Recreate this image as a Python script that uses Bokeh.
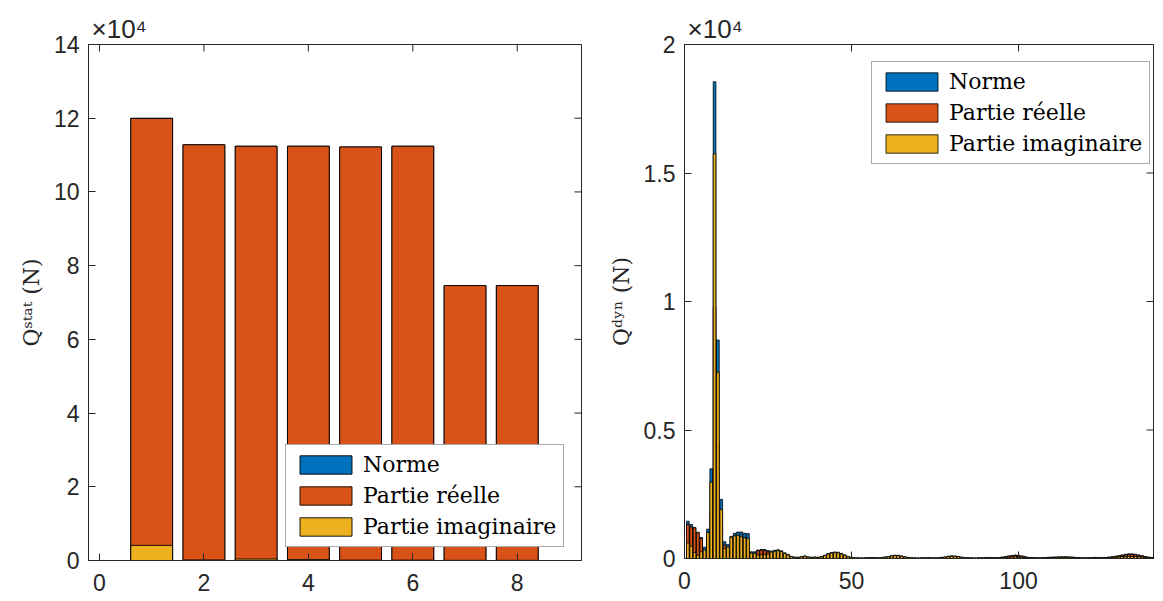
import math
from bokeh.plotting import figure
from bokeh.layouts import row
from bokeh.models import FixedTicker, ColumnDataSource, Range1d, Legend, LegendItem
from bokeh.embed import file_html
from bokeh.resources import INLINE

# ---------------- data ----------------
# Left chart: static loads (N)
stat_idx = [1, 2, 3, 4, 5, 6, 7, 8]
stat_norme = [120000, 112800, 112400, 112400, 112200, 112400, 74600, 74600]
stat_reel = [119930, 112800, 112390, 112400, 112200, 112400, 74600, 74600]
stat_imag = [4100, 150, 400, 250, 100, 100, 50, 50]

# Right chart: dynamic loads (N), harmonic index 1..143
dyn_idx = list(range(1, 144))
dyn_norme = [
    1450, 1320, 1210, 1020, 820, 440, 1140, 3490, 18550, 8500,
    2300, 650, 540, 860, 980, 1030, 1030, 980, 970, 260,
    260, 330, 350, 350, 310, 290, 320, 340, 300, 220,
    160, 85, 55, 50, 75, 100, 65, 50, 60, 50,
    75, 130, 190, 235, 255, 245, 200, 140, 80, 45,
    30, 25, 20, 25, 35, 40, 35, 30, 40, 60,
    80, 110, 130, 125, 100, 70, 40, 30, 25, 20,
    25, 30, 35, 30, 25, 30, 45, 65, 90, 105,
    100, 80, 55, 35, 30, 25, 20, 25, 30, 35,
    40, 35, 30, 40, 55, 75, 100, 120, 135, 125,
    100, 70, 45, 35, 30, 25, 30, 40, 50, 55,
    60, 65, 70, 70, 65, 60, 45, 35, 30, 25,
    30, 40, 45, 40, 35, 40, 55, 70, 90, 110,
    140, 165, 180, 180, 165, 140, 110, 80, 55, 40,
    35, 40, 45,
]
dyn_reel = [
    1320, 1230, 1190, 1010, 780, 280, 530, 1850, 9800, 4450,
    1280, 520, 300, 240, 450, 500, 590, 570, 580, 150,
    170, 300, 320, 320, 260, 150, 150, 160, 130, 100,
    70, 40, 25, 25, 35, 45, 30, 25, 30, 25,
    35, 55, 80, 100, 110, 105, 90, 65, 40, 20,
    15, 12, 10, 12, 18, 20, 18, 15, 20, 30,
    40, 50, 60, 60, 45, 35, 20, 15, 12, 10,
    12, 15, 18, 15, 12, 15, 22, 35, 45, 50,
    50, 40, 30, 20, 18, 15, 12, 15, 18, 22,
    25, 22, 20, 28, 42, 60, 85, 105, 120, 110,
    88, 60, 38, 30, 25, 20, 25, 32, 40, 45,
    45, 45, 50, 52, 48, 45, 35, 28, 24, 20,
    24, 32, 36, 32, 28, 32, 45, 58, 75, 95,
    120, 145, 160, 160, 145, 122, 95, 70, 48, 35,
    30, 35, 40,
]
dyn_imag = [
    600, 480, 230, 130, 260, 330, 1010, 2970, 15750, 7250,
    1910, 390, 450, 827, 880, 900, 850, 800, 775, 210,
    200, 140, 140, 150, 170, 250, 285, 300, 270, 195,
    140, 75, 48, 42, 66, 88, 57, 43, 52, 43,
    66, 118, 172, 212, 230, 220, 178, 124, 70, 40,
    26, 22, 17, 22, 30, 35, 30, 26, 35, 52,
    70, 98, 115, 110, 90, 60, 35, 26, 22, 17,
    22, 26, 30, 26, 22, 26, 40, 55, 78, 92,
    87, 70, 46, 30, 25, 22, 17, 22, 25, 30,
    32, 28, 22, 28, 38, 45, 52, 58, 62, 60,
    48, 36, 25, 20, 17, 14, 17, 25, 30, 32,
    40, 47, 50, 48, 45, 40, 28, 22, 18, 15,
    18, 25, 28, 25, 22, 24, 32, 40, 52, 62,
    72, 80, 83, 82, 78, 68, 55, 40, 28, 20,
    18, 20, 22,
]

series_names = ["Norme", "Partie réelle", "Partie imaginaire"]
series_colors = ["#0072BD", "#D95319", "#EDB120"]
SCALE = 1e4
EXPONENT_TEXT = "×10⁴"

left_xticks = [0, 2, 4, 6, 8]
left_yticks = [0, 2, 4, 6, 8, 10, 12, 14]
right_xticks = [0, 50, 100, 150]
right_yticks = [0, 0.5, 1, 1.5, 2]

AX = "#262626"
TICK_FONT = "Liberation Sans"
SERIF = "DejaVu Serif"


def style_axis(ax, ticks):
    ax.ticker = FixedTicker(ticks=ticks)
    ax.axis_line_color = AX
    ax.axis_line_width = 1
    ax.major_tick_line_color = AX
    ax.major_tick_in = 7
    ax.major_tick_out = 0
    ax.minor_tick_in = 0
    ax.minor_tick_out = 0
    ax.major_label_text_font = TICK_FONT
    ax.major_label_text_color = AX
    ax.major_label_text_font_size = "23px"


def make_fig(xr, yr, fw, fh, bl, br, bt, bb, xticks, yticks, ylabel):
    p = figure(x_range=Range1d(*xr), y_range=Range1d(*yr),
               frame_width=fw, frame_height=fh,
               min_border_left=bl, min_border_right=br,
               min_border_top=bt, min_border_bottom=bb,
               output_backend="svg", toolbar_location=None)
    p.xgrid.visible = False
    p.ygrid.visible = False
    p.outline_line_color = AX
    p.outline_line_width = 1
    p.background_fill_color = "white"
    p.border_fill_color = "white"
    style_axis(p.xaxis[0], xticks)
    p.xaxis[0].major_label_standoff = 13
    style_axis(p.yaxis[0], yticks)
    p.yaxis[0].major_label_standoff = 9
    p.yaxis[0].axis_label = ylabel
    p.yaxis[0].axis_label_text_font = SERIF
    p.yaxis[0].axis_label_text_font_style = "normal"
    p.yaxis[0].axis_label_text_font_size = "22px"
    p.yaxis[0].axis_label_text_color = AX
    p.yaxis[0].axis_label_standoff = 7
    # exponent text (x10^4) above the top-left corner
    p.title.text = EXPONENT_TEXT
    p.title.align = "left"
    p.title.offset = 3
    p.title.text_font = TICK_FONT
    p.title.text_font_style = "normal"
    p.title.text_font_size = "26px"
    p.title.text_color = AX
    p.title.standoff = 2
    # mirror ticks on top and right edges (inward)
    p.ray(x=xticks, y=[yr[1]] * len(xticks), length=7, length_units="screen",
          angle=-math.pi / 2, line_color=AX, line_width=1)
    p.ray(x=[xr[1]] * len(yticks), y=yticks, length=7, length_units="screen",
          angle=math.pi, line_color=AX, line_width=1)
    return p


def add_bars(p, x, vals, lw):
    items = []
    for name, color, v in zip(series_names, series_colors, vals):
        src = ColumnDataSource(dict(x=x, top=[t / SCALE for t in v]))
        r = p.vbar(x="x", top="top", bottom=0, width=0.8, source=src,
                   fill_color=color, line_color="black", line_width=lw)
        items.append(LegendItem(label=name, renderers=[r]))
    return items


def add_legend(p, items, loc):
    lg = Legend(items=items, location=loc)
    lg.label_text_font = SERIF
    lg.label_text_font_size = "22px"
    lg.label_text_color = "black"
    lg.glyph_width = 65
    lg.glyph_height = 23
    lg.label_height = 23
    lg.label_standoff = 5
    lg.spacing = 6
    lg.padding = 7
    lg.margin = 0
    lg.border_line_color = "#555555"
    lg.border_line_width = 1
    lg.background_fill_color = "white"
    lg.background_fill_alpha = 1
    p.add_layout(lg, "center")


# ---------------- left figure ----------------
p1 = make_fig((-0.21, 9.23), (0, 14), 493, 516, 88, 20, 42, 39,
              left_xticks, left_yticks, "Qˢᵗᵃᵗ (N)")
items1 = add_bars(p1, stat_idx, [stat_norme, stat_reel, stat_imag], 0.9)
add_legend(p1, items1, (197, 13))

# ---------------- right figure ----------------
p2 = make_fig((0, 140.4), (0, 2), 469, 514, 83, 2, 44, 39,
              right_xticks, right_yticks, "Qᵈʸⁿ (N)")
items2 = add_bars(p2, dyn_idx, [dyn_norme, dyn_reel, dyn_imag], 0.8)
add_legend(p2, items2, (187, 394))

layout = row(p1, p2, spacing=0)
open("out.html", "w").write(file_html(layout, INLINE))
